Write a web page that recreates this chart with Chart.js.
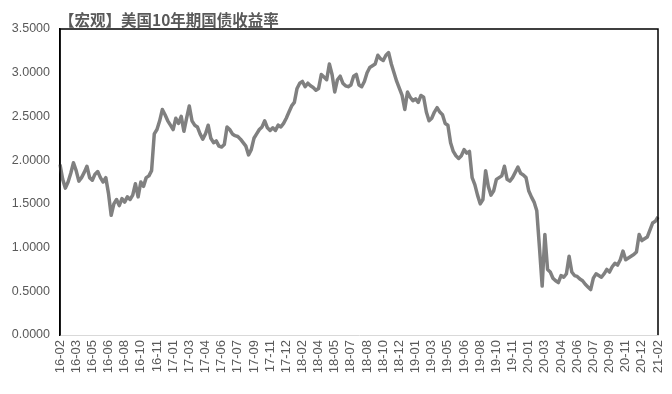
<!DOCTYPE html>
<html>
<head>
<meta charset="utf-8">
<script src="https://cdn.jsdelivr.net/npm/chart.js@4"></script>
<style>
  html, body { margin: 0; padding: 0; background: #fff; }
  #wrap { width: 672px; height: 394px; position: relative; }
</style>
</head>
<body>
<div id="wrap"><canvas id="yieldChart"></canvas></div>
<script>
// --- Data ---
const chartTitle = '【宏观】美国10年期国债收益率';

// month labels shown on the x axis, one every 6 points
const tickLabels = ['16-02', '16-03', '16-05', '16-06', '16-08', '16-10', '16-11', '17-01', '17-03', '17-04',
    '17-06', '17-07', '17-09', '17-11', '17-12', '18-02', '18-04', '18-05', '18-07', '18-08',
    '18-10', '18-12', '19-01', '19-03', '19-05', '19-06', '19-08', '19-10', '19-11', '20-01',
    '20-03', '20-04', '20-06', '20-07', '20-09', '20-11', '20-12', '21-02'];
const pointsPerLabel = 6;

// 10Y treasury yield (%), roughly weekly samples
const yields = [
    1.95, 1.78, 1.68, 1.75, 1.85, 1.97,
    1.88, 1.76, 1.80, 1.86, 1.93, 1.80,
    1.77, 1.84, 1.87, 1.80, 1.75, 1.80,
    1.62, 1.37, 1.50, 1.55, 1.48, 1.56,
    1.52, 1.58, 1.55, 1.60, 1.73, 1.58,
    1.75, 1.70, 1.80, 1.82, 1.88, 2.30,
    2.35, 2.45, 2.58, 2.52, 2.45, 2.40,
    2.35, 2.48, 2.42, 2.50, 2.33, 2.48,
    2.62, 2.45, 2.40, 2.38, 2.30, 2.24,
    2.30, 2.40, 2.25, 2.20, 2.22, 2.16,
    2.15, 2.18, 2.38, 2.35, 2.30, 2.28,
    2.27, 2.24, 2.20, 2.16, 2.06, 2.12,
    2.25, 2.30, 2.35, 2.38, 2.45, 2.37,
    2.34, 2.37, 2.34, 2.40, 2.38, 2.42,
    2.48, 2.55, 2.62, 2.66, 2.82, 2.88,
    2.90, 2.84, 2.88, 2.85, 2.83, 2.80,
    2.82, 2.98, 2.95, 2.92, 3.10, 2.98,
    2.78, 2.92, 2.96, 2.88, 2.85, 2.84,
    2.86, 2.96, 2.98, 2.86, 2.84, 2.90,
    3.00, 3.06, 3.08, 3.10, 3.20, 3.16,
    3.14, 3.20, 3.23, 3.10, 3.00, 2.90,
    2.82, 2.74, 2.58, 2.78, 2.72, 2.68,
    2.70, 2.66, 2.74, 2.72, 2.55, 2.45,
    2.48, 2.55, 2.60, 2.55, 2.52, 2.42,
    2.40, 2.20, 2.10, 2.05, 2.02, 2.05,
    2.12, 2.08, 2.10, 1.80, 1.72, 1.60,
    1.50, 1.55, 1.88, 1.70, 1.60, 1.65,
    1.78, 1.80, 1.82, 1.93, 1.78, 1.76,
    1.80, 1.86, 1.92, 1.85, 1.83, 1.80,
    1.65, 1.58, 1.52, 1.42, 1.00, 0.56,
    1.15, 0.75, 0.72, 0.65, 0.62, 0.60,
    0.68, 0.66, 0.70, 0.90, 0.72, 0.68,
    0.67, 0.64, 0.62, 0.58, 0.55, 0.52,
    0.65, 0.70, 0.68, 0.66, 0.70, 0.75,
    0.72, 0.78, 0.82, 0.80, 0.86, 0.96,
    0.86, 0.88, 0.90, 0.92, 0.95, 1.15,
    1.08, 1.10, 1.12, 1.20, 1.28, 1.30,
    1.35
];

const yMin = 0, yMax = 3.5, yStep = 0.5;

// category labels: month text every 6th point, blank otherwise
const categories = yields.map((_, i) => i % pointsPerLabel === 0 ? tickLabels[i / pointsPerLabel] : '');

// --- Frame + title drawn on the canvas ---
const frame = {
    id: 'frame',
    afterDraw(chart) {
        const { ctx, chartArea: a } = chart;
        ctx.save();
        ctx.strokeStyle = '#000';
        ctx.lineWidth = 1.5;
        ctx.beginPath();
        ctx.moveTo(a.left, a.bottom);
        ctx.lineTo(a.left, a.top);
        ctx.lineTo(a.right, a.top);
        ctx.lineTo(a.right, a.bottom);
        ctx.stroke();

        ctx.fillStyle = '#595959';
        ctx.font = 'bold 15.5px "Noto Sans CJK SC", sans-serif';
        ctx.textBaseline = 'middle';
        ctx.textAlign = 'left';
        ctx.fillText(chartTitle, a.left - 1, 20);
        ctx.restore();
    }
};

new Chart(document.getElementById('yieldChart'), {
    type: 'line',
    data: {
        labels: categories,
        datasets: [{
            data: yields,
            borderColor: '#808080',
            borderWidth: 3.5,
            borderJoinStyle: 'round',
            pointRadius: 0,
            tension: 0,
            fill: false
        }]
    },
    options: {
        responsive: true,
        maintainAspectRatio: false,
        animation: false,
        layout: { padding: { top: 29, right: 14, bottom: 0, left: 0 } },
        plugins: { legend: { display: false }, tooltip: { enabled: false } },
        scales: {
            x: {
                offset: false,
                grid: { display: false, drawTicks: false },
                border: { color: '#d9d9d9', width: 1 },
                ticks: {
                    autoSkip: false,
                    minRotation: 90,
                    maxRotation: 90,
                    padding: 5,
                    color: '#595959',
                    font: { family: '"Liberation Sans", Arial, sans-serif', size: 13 }
                },
                afterFit: s => { s.height = 59; s.paddingLeft = 0; s.paddingRight = 0; }
            },
            y: {
                min: yMin,
                max: yMax,
                grid: { display: false, drawTicks: false },
                border: { color: '#000', width: 1.5 },
                ticks: {
                    stepSize: yStep,
                    padding: 10,
                    color: '#595959',
                    font: { family: '"Liberation Sans", Arial, sans-serif', size: 12.5 },
                    callback: v => Number(v).toFixed(4)
                },
                afterFit: s => { s.width = 60; s.paddingTop = 0; s.paddingBottom = 0; }
            }
        }
    },
    plugins: [frame]
});
</script>
</body>
</html>
